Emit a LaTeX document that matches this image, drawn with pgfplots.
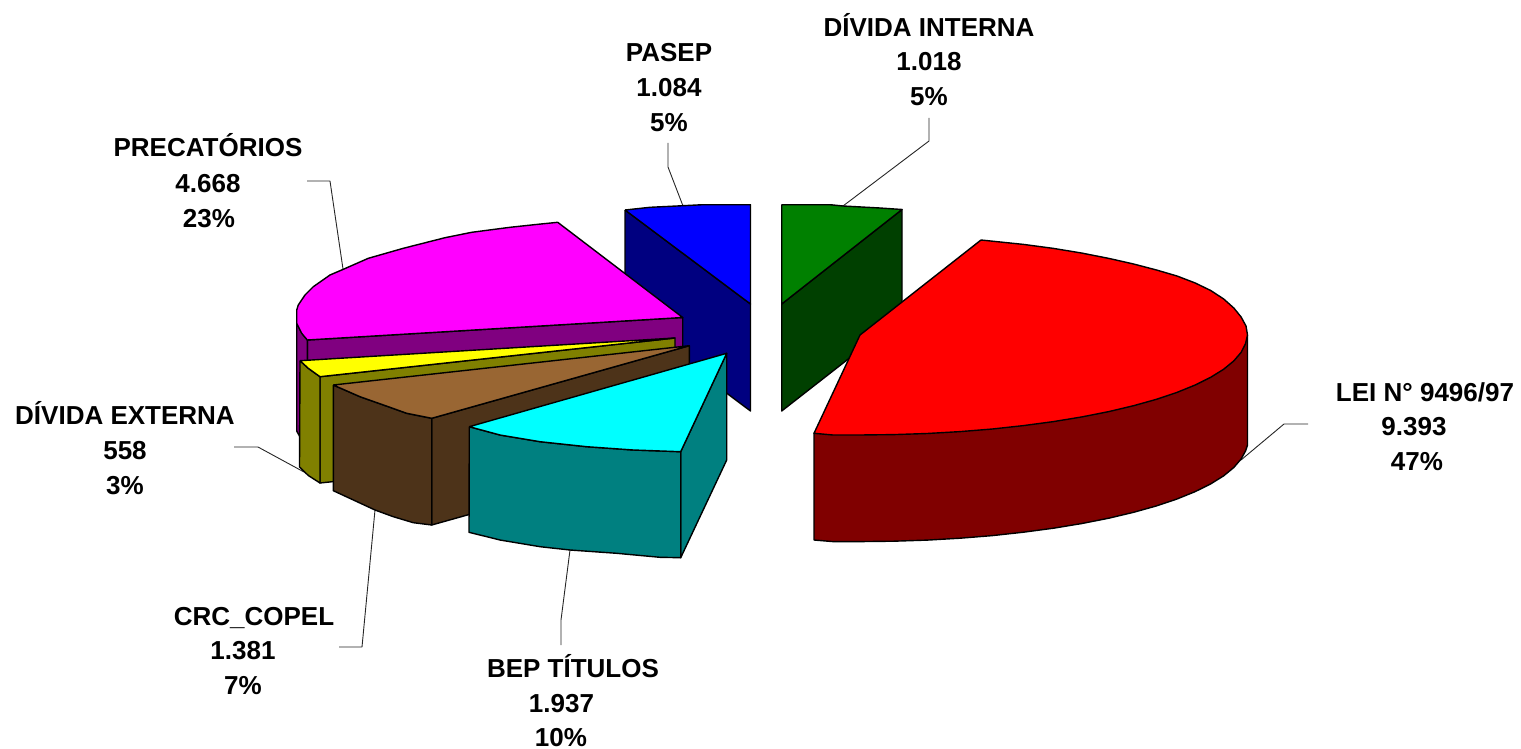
\documentclass[border=0pt]{standalone}
\usepackage{pgfplots}
\pgfplotsset{compat=1.18}
\usepackage{fontspec}
\setmainfont{Liberation Sans}
\definecolor{cRed}{HTML}{FF0000}\definecolor{cRedD}{HTML}{800000}
\definecolor{cMag}{HTML}{FF00FF}\definecolor{cMagD}{HTML}{800080}
\definecolor{cBlu}{HTML}{0000FF}\definecolor{cBluD}{HTML}{000080}
\definecolor{cGrn}{HTML}{008000}\definecolor{cGrnD}{HTML}{004000}
\definecolor{cYel}{HTML}{FFFF00}\definecolor{cYelD}{HTML}{808000}
\definecolor{cBro}{HTML}{996633}\definecolor{cBroD}{HTML}{4D3319}
\definecolor{cCya}{HTML}{00FFFF}\definecolor{cCyaD}{HTML}{008080}
\newcommand{\lab}[3]{\node[anchor=base,inner sep=0pt,font=\fontsize{13pt}{14pt}\selectfont\bfseries] at (axis cs:#1,#2) {#3};}
\begin{document}
\begin{tikzpicture}
\begin{axis}[hide axis,scale only axis,width=760.5pt,height=374.5pt,
  xmin=0,xmax=1521,ymin=0,ymax=749,y dir=reverse,clip=false,
  every axis plot/.append style={mark=none,line join=round}]
\pgfplotsset{face/.style={draw=black,line width=0.7pt,fill=#1},leader/.style={draw=black!85,line width=0.45pt,fill=none}}
% leaders
\addplot[leader] coordinates {(668,143) (668,167) (683,206)};
\addplot[leader] coordinates {(929,118) (929,141) (843,206)};
\addplot[leader] coordinates {(307,181) (330,181) (343,269)};
\addplot[leader] coordinates {(1308,424) (1284,424) (1241,460)};
\addplot[leader] coordinates {(234,447) (258,447) (304,472)};
\addplot[leader] coordinates {(339,647) (362,647) (375,510)};
\addplot[leader] coordinates {(561,645) (561,620) (570,550)};
% PASEP
\addplot[face=cBluD] coordinates {(625,210) (750.5,304) (750.5,411) (625,317) (625,210)};
\addplot[face=cBlu] coordinates {(625,210) (650,207.3) (683,205.7) (703,204.7) (750.5,204.7) (750.5,304) (625,210)};
% DIVIDA INTERNA
\addplot[face=cGrnD] coordinates {(781.7,304) (902,209.5) (902,317) (781.7,411) (781.7,304)};
\addplot[face=cGrn] coordinates {(781.7,204.7) (830,204.7) (843,206) (880,208) (902,209.5) (781.7,304) (781.7,204.7)};
% PRECATORIOS
\addplot[face=cMagD] coordinates {(307.3,340) (682.7,317.5) (682.7,425) (307.3,447) (307.3,340)};
\addplot[face=cMagD] coordinates {(296.7,323) (301.7,333) (307.3,340) (307.3,447) (301.7,440) (296.7,431) (296.7,323)};
\addplot[face=cMag] coordinates {(557.7,222.3) (538,224.3) (510,227.3) (471.7,232.3) (445,237.7) (403.3,248.3) (368.3,258.3) (343.3,269.3) (330,275) (313.3,286.7) (305,295) (298.3,305) (296.7,310) (296.7,323.3) (301.7,333.3) (307.3,340) (682.7,317.5) (557.7,222.3)};
% DIVIDA EXTERNA
\addplot[face=cYelD] coordinates {(320,376.7) (675,338) (675,445.7) (320,483) (320,376.7)};
\addplot[face=cYelD] coordinates {(300,360.7) (308.3,368.3) (320,376.7) (320,483) (308.3,475.5) (299.5,467) (300,360.7)};
\addplot[face=cYel] coordinates {(300,360.7) (308.3,368.3) (320,376.7) (675,338) (300,360.7)};
% CRC
\addplot[face=cBroD] coordinates {(431.7,418.3) (689.3,345.7) (689.3,452.7) (431.7,525) (431.7,418.3)};
\addplot[face=cBroD] coordinates {(333.3,385) (360,396.7) (390,407.3) (406.7,413.3) (431.7,418.3) (431.7,525) (413.3,522.7) (393.3,516.7) (375,510) (333.3,490.7) (333.3,385)};
\addplot[face=cBro] coordinates {(333.3,385) (360,396.7) (390,407.3) (406.7,413.3) (431.7,418.3) (689.3,345.7) (333.3,385)};
% BEP
\addplot[face=cCyaD] coordinates {(680.7,451.7) (726.7,353.3) (726.7,460) (680.7,557.7) (680.7,451.7)};
\addplot[face=cCyaD] coordinates {(469.3,426.7) (500,435) (540,441.7) (586.7,446.7) (633.3,450) (680.7,451.7) (680.7,557.7) (660,557.3) (616.7,553.3) (570,550) (540,546.7) (500,540) (469,532.3) (469.3,426.7)};
\addplot[face=cCya] coordinates {(469.3,426.7) (500,435) (540,441.7) (586.7,446.7) (633.3,450) (680.7,451.7) (726.7,353.3) (469.3,426.7)};
% LEI
\addplot[face=cRedD] coordinates {(1247.5,335) (1247.5,445) (1245.5,451) (1241.1,459) (1233.8,467.5) (1223.7,475.8) (1210.7,483.9) (1195.2,491.6) (1177,499) (1156.5,505.9) (1133.6,512.3) (1108.8,518.2) (1082,523.5) (1053.5,528.2) (1023.5,532.2) (992.4,535.6) (960.2,538.2) (927.2,540.1) (893.7,541.2) (860,541.6) (833,541.6) (814,540) (814,433.3) (1247.5,335)};
\addplot[face=cRed] coordinates {(981,240) (1023.5,244.4) (1053.5,248.4) (1082,253.1) (1108.8,258.4) (1133.6,264) (1156.5,270) (1177,276) (1195.2,283) (1210.7,290.5) (1223.7,299) (1233.8,308) (1241.1,317) (1246,326) (1247.5,335) (1245.5,343.7) (1241.1,352.4) (1233.8,360.9) (1223.7,369.2) (1210.7,377.3) (1195.2,385) (1177,392.4) (1156.5,399.3) (1133.6,405.7) (1108.8,411.6) (1082,416.9) (1053.5,421.6) (1023.5,425.6) (992.4,429) (960.2,431.6) (927.2,433.5) (893.7,434.6) (860,435) (833,435) (814,433.3) (860,335) (981,240)};
% labels
\lab{669}{62}{PASEP}\lab{669}{97}{1.084}\lab{669}{132}{5\%}
\lab{929}{37}{DÍVIDA INTERNA}\lab{929}{71}{1.018}\lab{929}{106}{5\%}
\lab{208}{156}{PRECATÓRIOS}\lab{208}{192.5}{4.668}\lab{209}{227.5}{23\%}
\lab{1425}{401}{LEI N° 9496/97}\lab{1414}{435.5}{9.393}\lab{1417}{470}{47\%}
\lab{125}{424}{DÍVIDA EXTERNA}\lab{125}{459}{558}\lab{125}{494}{3\%}
\lab{254}{625}{CRC\_COPEL}\lab{243}{659}{1.381}\lab{243}{694}{7\%}
\lab{573}{677}{BEP TÍTULOS}\lab{561.5}{712}{1.937}\lab{561}{746}{10\%}
\end{axis}
\pgfresetboundingbox
\path[use as bounding box] (0,0) rectangle (760.5pt,374.5pt);
\end{tikzpicture}
\end{document}
